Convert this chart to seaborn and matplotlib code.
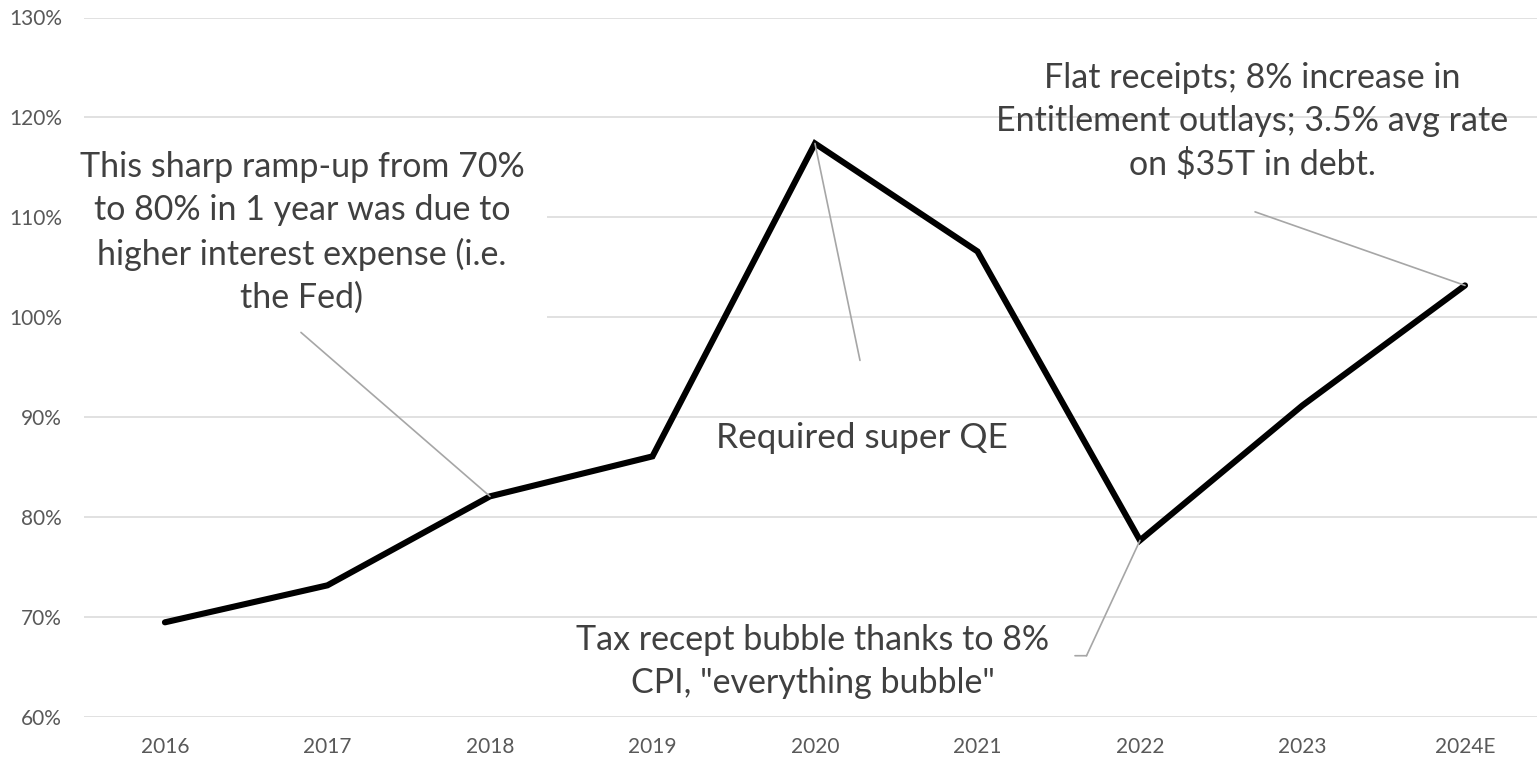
import numpy as np
import matplotlib
matplotlib.use("Agg")
import matplotlib.pyplot as plt
import seaborn as sns
from matplotlib.ticker import FuncFormatter
from matplotlib.patches import Rectangle

# ---- data ----
years = ["2016", "2017", "2018", "2019", "2020", "2021", "2022", "2023", "2024E"]
ratio_pct = [69.5, 73.2, 82.1, 86.1, 117.4, 106.6, 77.7, 91.2, 103.2]
y_ticks = [60, 70, 80, 90, 100, 110, 120, 130]

note_ramp = "This sharp ramp-up from 70%\nto 80% in 1 year was due to\nhigher interest expense (i.e.\nthe Fed)"
note_qe = "Required super QE"
note_tax = "Tax recept bubble thanks to 8%\nCPI, \"everything bubble\""
note_flat = "Flat receipts; 8% increase in\nEntitlement outlays; 3.5% avg rate\non $35T in debt."

sns.set_theme(style="white")
plt.rcParams["font.family"] = ["Lato", "DejaVu Sans"]

fig = plt.figure(figsize=(15.38, 7.58), dpi=100)
ax = fig.add_axes([84 / 1538, (758 - 717.3) / 758, (1537 - 84) / 1538, (717.3 - 17.5) / 758])

x = np.arange(len(years))
sns.lineplot(x=x, y=ratio_pct, ax=ax, color="black", linewidth=4.4, sort=False,
             zorder=4, solid_joinstyle="miter")

ax.set_xlim(-0.498, 8.443)
ax.set_ylim(60, 130)
ax.set_yticks(y_ticks)
ax.yaxis.set_major_formatter(FuncFormatter(lambda v, p: f"{v:.0f}%"))
ax.set_xticks(x)
ax.set_xticklabels(years)
ax.grid(axis="y", color="#D9D9D9", linewidth=1.1)
ax.grid(axis="x", visible=False)
ax.set_axisbelow(True)
for s in ax.spines.values():
    s.set_visible(False)
ax.tick_params(axis="both", length=0, labelsize=15, labelcolor="#595959")
ax.tick_params(axis="y", pad=16)
ax.tick_params(axis="x", pad=14)
ax.set_xlabel("")
ax.set_ylabel("")

txt_kw = dict(fontsize=24.5, color="#404040", ha="center", va="center", linespacing=1.42, zorder=3)
conn = dict(arrowstyle="-", color="#A6A6A6", linewidth=1.2, shrinkA=0, shrinkB=0)

# white text box behind annotation 1 (hides gridlines)
ax.add_patch(Rectangle((0, 0.5477), 0.3187, 0.303, transform=ax.transAxes,
                       facecolor="white", edgecolor="none", zorder=2))

# annotation 1
ax.text(0.843, 108.5, note_ramp, **txt_kw)
ax.annotate("", xy=(2, ratio_pct[2]), xytext=(0.837, 98.5), arrowprops=conn, zorder=5)

# annotation 2
ax.text(4.29, 87.9, note_qe, fontsize=25.3, color="#404040", ha="center", va="center", zorder=3)
ax.annotate("", xy=(4, ratio_pct[4]), xytext=(4.277, 95.7), arrowprops=conn, zorder=5)

# annotation 3
ax.text(3.988, 65.6, note_tax, **txt_kw)
ax.annotate("", xy=(5.671, 66.16), xytext=(5.6, 66.16), arrowprops=conn, zorder=5)
ax.annotate("", xy=(6, ratio_pct[6]), xytext=(5.671, 66.16), arrowprops=conn, zorder=5)

# annotation 4
ax.text(6.69, 119.6, note_flat, **txt_kw)
ax.annotate("", xy=(8, ratio_pct[8]), xytext=(6.708, 110.56), arrowprops=conn, zorder=5)

fig.savefig("out.png", dpi=100, facecolor="white")
